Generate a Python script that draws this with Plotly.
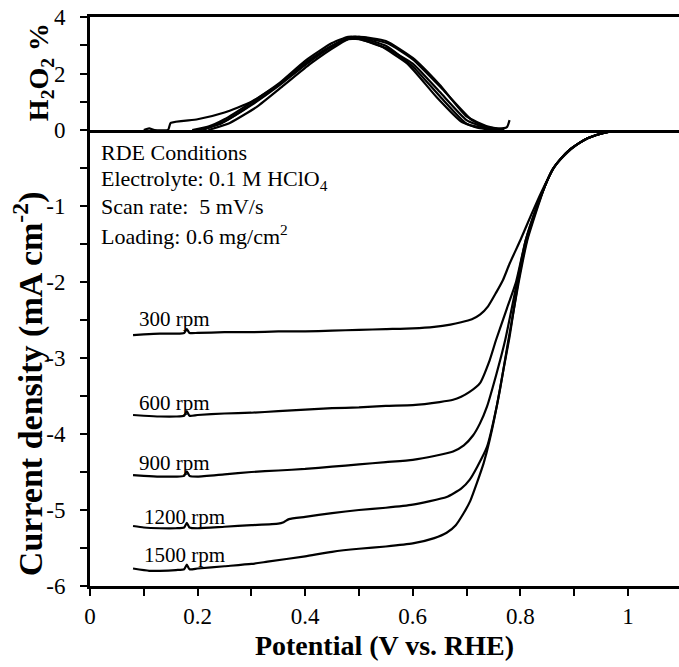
import plotly.graph_objects as go

# ---------------- LSV data (Potential V vs RHE, current density mA cm-2) -----------
x_300 = [0.08, 0.10, 0.13, 0.16, 0.175, 0.18, 0.185, 0.20, 0.25, 0.30, 0.35, 0.40, 0.45,
         0.50, 0.55, 0.60, 0.64, 0.67, 0.69, 0.71, 0.725, 0.74, 0.755, 0.768, 0.78, 0.80,
         0.82, 0.835, 0.85, 0.865, 0.88, 0.895, 0.91, 0.925, 0.94, 0.955, 0.97, 0.985, 1.00]
j_300 = [-2.70, -2.69, -2.68, -2.68, -2.67, -2.62, -2.67, -2.67, -2.66, -2.66, -2.65, -2.65, -2.64,
         -2.63, -2.62, -2.61, -2.59, -2.56, -2.53, -2.49, -2.43, -2.32, -2.14, -1.97, -1.76, -1.45,
         -1.12, -0.88, -0.66, -0.47, -0.35, -0.25, -0.17, -0.11, -0.07, -0.04, -0.015, 0.0, 0.0]

x_600 = [0.08, 0.10, 0.13, 0.16, 0.175, 0.18, 0.185, 0.20, 0.25, 0.30, 0.35, 0.40, 0.45,
         0.50, 0.55, 0.60, 0.65, 0.675, 0.69, 0.705, 0.725, 0.743, 0.755, 0.775, 0.792, 0.81,
         0.831, 0.845, 0.86, 0.875, 0.89, 0.91, 0.925, 0.94, 0.955, 0.97, 0.985, 1.00]
j_600 = [-3.75, -3.76, -3.77, -3.77, -3.76, -3.70, -3.76, -3.75, -3.73, -3.72, -3.70, -3.68, -3.66,
         -3.65, -3.63, -3.62, -3.58, -3.55, -3.51, -3.45, -3.33, -3.03, -2.76, -2.35, -2.00, -1.45,
         -1.00, -0.75, -0.52, -0.38, -0.27, -0.17, -0.11, -0.07, -0.04, -0.015, 0.0, 0.0]

x_900 = [0.08, 0.10, 0.13, 0.16, 0.175, 0.18, 0.185, 0.20, 0.25, 0.30, 0.35, 0.40, 0.45,
         0.50, 0.55, 0.60, 0.64, 0.675, 0.695, 0.712, 0.725, 0.738, 0.756, 0.772, 0.794, 0.81,
         0.831, 0.845, 0.86, 0.875, 0.89, 0.91, 0.925, 0.94, 0.955, 0.97, 0.985, 1.00]
j_900 = [-4.54, -4.55, -4.56, -4.56, -4.55, -4.49, -4.55, -4.56, -4.53, -4.50, -4.48, -4.46, -4.43,
         -4.40, -4.37, -4.34, -4.29, -4.23, -4.15, -4.02, -3.86, -3.64, -3.20, -2.76, -2.00, -1.45,
         -1.00, -0.75, -0.52, -0.38, -0.27, -0.17, -0.11, -0.07, -0.04, -0.015, 0.0, 0.0]

x_1200 = [0.08, 0.10, 0.13, 0.16, 0.175, 0.18, 0.185, 0.20, 0.25, 0.30, 0.35, 0.36, 0.37, 0.40,
          0.45, 0.50, 0.55, 0.60, 0.663, 0.69, 0.706, 0.72, 0.738, 0.756, 0.77, 0.78, 0.796, 0.812,
          0.832, 0.845, 0.86, 0.875, 0.89, 0.91, 0.925, 0.94, 0.955, 0.97, 0.985, 1.00]
j_1200 = [-5.21, -5.23, -5.24, -5.24, -5.23, -5.17, -5.23, -5.24, -5.22, -5.20, -5.18, -5.16, -5.12, -5.09,
          -5.04, -5.00, -4.97, -4.93, -4.83, -4.72, -4.60, -4.43, -4.17, -3.64, -3.10, -2.72, -2.00, -1.45,
          -1.00, -0.75, -0.52, -0.38, -0.27, -0.17, -0.11, -0.07, -0.04, -0.015, 0.0, 0.0]

x_1500 = [0.08, 0.11, 0.13, 0.16, 0.175, 0.18, 0.185, 0.20, 0.25, 0.30, 0.33, 0.40, 0.45,
          0.50, 0.55, 0.60, 0.64, 0.663, 0.68, 0.694, 0.707, 0.719, 0.732, 0.743, 0.762, 0.777,
          0.797, 0.813, 0.833, 0.845, 0.86, 0.875, 0.89, 0.91, 0.925, 0.94, 0.955, 0.97, 0.985, 1.00]
j_1500 = [-5.77, -5.80, -5.80, -5.79, -5.78, -5.72, -5.78, -5.77, -5.74, -5.71, -5.68, -5.61, -5.55,
          -5.51, -5.48, -5.44, -5.37, -5.30, -5.20, -5.05, -4.88, -4.65, -4.38, -4.08, -3.42, -2.80,
          -2.00, -1.45, -1.00, -0.75, -0.52, -0.38, -0.27, -0.17, -0.11, -0.07, -0.04, -0.015, 0.0, 0.0]

lsv_labels = ["300 rpm", "600 rpm", "900 rpm", "1200 rpm", "1500 rpm"]

# ---------------- H2O2 yield data (%) ----------------
hx_a = [0.10, 0.11, 0.12, 0.145, 0.15, 0.20, 0.25, 0.30, 0.35, 0.40, 0.45, 0.48, 0.50, 0.55,
        0.60, 0.65, 0.70, 0.73, 0.76, 0.775, 0.78]
hy_a = [0.0, 0.06, 0.0, 0.0, 0.25, 0.38, 0.62, 1.00, 1.60, 2.38, 2.98, 3.25, 3.22, 2.90,
        2.35, 1.35, 0.35, 0.12, 0.05, 0.10, 0.35]
hx_b = [0.19, 0.22, 0.25, 0.30, 0.35, 0.40, 0.45, 0.48, 0.50, 0.55, 0.60, 0.65, 0.70, 0.74, 0.77]
hy_b = [0.0, 0.12, 0.38, 0.98, 1.63, 2.45, 3.08, 3.30, 3.28, 2.98, 2.25, 1.20, 0.22, 0.05, 0.02]
hx_c = [0.21, 0.25, 0.30, 0.35, 0.40, 0.45, 0.48, 0.50, 0.55, 0.60, 0.65, 0.70, 0.74, 0.77]
hy_c = [0.0, 0.30, 0.88, 1.55, 2.30, 2.95, 3.22, 3.30, 3.15, 2.55, 1.60, 0.48, 0.12, 0.02]
hx_d = [0.22, 0.26, 0.31, 0.36, 0.41, 0.46, 0.49, 0.51, 0.555, 0.60, 0.655, 0.71, 0.74, 0.76]
hy_d = [0.0, 0.25, 0.82, 1.58, 2.35, 3.00, 3.30, 3.27, 3.05, 2.50, 1.45, 0.35, 0.08, 0.0]
hx_e = [0.20, 0.24, 0.29, 0.345, 0.39, 0.44, 0.475, 0.50, 0.54, 0.59, 0.645, 0.69, 0.72, 0.75]
hy_e = [0.0, 0.20, 0.78, 1.52, 2.22, 2.88, 3.20, 3.22, 2.97, 2.35, 1.15, 0.30, 0.08, 0.0]

# ---------------- figure ----------------
FONT = "Liberation Serif, Times New Roman, serif"
fig = go.Figure()

for xs, js in [(x_300, j_300), (x_600, j_600), (x_900, j_900), (x_1200, j_1200), (x_1500, j_1500)]:
    fig.add_trace(go.Scatter(x=xs, y=js, mode="lines", xaxis="x", yaxis="y",
                             line=dict(color="black", width=2.2, shape="spline", smoothing=0.5),
                             showlegend=False, hoverinfo="skip"))

for xs, ys in [(hx_a, hy_a), (hx_b, hy_b), (hx_c, hy_c), (hx_d, hy_d), (hx_e, hy_e)]:
    fig.add_trace(go.Scatter(x=xs, y=ys, mode="lines", xaxis="x2", yaxis="y2",
                             line=dict(color="black", width=2.2, shape="spline", smoothing=0.5),
                             showlegend=False, hoverinfo="skip"))

y_major = [-6, -5, -4, -3, -2, -1]
y_major_text = ["-6", "-5", "-4", "-3", "-2", "-1"]
h_major = [0, 2, 4]
h_major_text = ["0", "2", "4"]

split = 0.8014

fig.update_layout(
    width=679, height=667,
    margin=dict(l=90, r=0, t=17, b=81),
    paper_bgcolor="white", plot_bgcolor="white",
    font=dict(family=FONT, color="black", size=22),
    xaxis=dict(domain=[0, 1], range=[0, 1.095], anchor="y",
               showline=True, linewidth=3, linecolor="black",
               ticks="outside", ticklen=7, tickwidth=1.5, tickcolor="black",
               tick0=0, dtick=0.2,
               minor=dict(dtick=0.1, tick0=0, ticks="outside", ticklen=7, tickwidth=1.5, tickcolor="black"),
               showgrid=False, zeroline=False,
               tickfont=dict(family=FONT, size=23),
               title=dict(text="<b>Potential (V vs. RHE)</b>", font=dict(family=FONT, size=28), standoff=8)),
    xaxis2=dict(domain=[0, 1], matches="x", anchor="y2",
                showline=True, mirror=True, linewidth=3, linecolor="black",
                ticks="", showticklabels=False, showgrid=False, zeroline=False),
    yaxis=dict(domain=[0, split], range=[-6, 0], anchor="x",
               showline=True, linewidth=3, linecolor="black",
               tickmode="array", tickvals=y_major, ticktext=y_major_text,
               ticks="outside", ticklen=7, tickwidth=1.5, tickcolor="black",
               minor=dict(tickmode="array", tickvals=[-5.5, -4.5, -3.5, -2.5, -1.5, -0.5],
                          ticks="outside", ticklen=7, tickwidth=1.5, tickcolor="black"),
               ticklabelstandoff=10,
               showgrid=False, zeroline=False,
               tickfont=dict(family=FONT, size=23)),
    yaxis2=dict(domain=[split, 1], range=[0, 4], anchor="x2",
                showline=True, linewidth=3, linecolor="black",
                tickmode="array", tickvals=h_major, ticktext=h_major_text,
                ticks="outside", ticklen=7, tickwidth=1.5, tickcolor="black",
                minor=dict(tickmode="array", tickvals=[1, 3],
                           ticks="outside", ticklen=7, tickwidth=1.5, tickcolor="black"),
                ticklabelstandoff=10,
                showgrid=False, zeroline=False,
                tickfont=dict(family=FONT, size=23)),
)

annotations = [
    dict(text="<b>Current density (mA cm<sup>-2</sup>)</b>", textangle=-90,
         xref="paper", yref="paper", x=-0.105, y=0.355, xanchor="center", yanchor="middle",
         showarrow=False, font=dict(family=FONT, size=34)),
    dict(text="<b>H<sub>2</sub>O<sub>2</sub> %</b>", textangle=-90,
         xref="paper", yref="paper", x=-0.085, y=0.903, xanchor="center", yanchor="middle",
         showarrow=False, font=dict(family=FONT, size=28)),
]

cond_lines = ["RDE Conditions", "Electrolyte: 0.1 M HClO<sub>4</sub>",
              "Scan rate:  5 mV/s", "Loading: 0.6 mg/cm<sup>2</sup>"]
cond_y = [-0.29, -0.66, -1.01, -1.38]
for t, yy in zip(cond_lines, cond_y):
    annotations.append(dict(text=t, xref="x", yref="y", x=0.017, y=yy, xanchor="left",
                            yanchor="middle", showarrow=False, font=dict(family=FONT, size=22)))

label_pos = [(0.087, -2.49), (0.088, -3.59), (0.088, -4.38), (0.096, -5.09), (0.097, -5.59)]
for t, (xx, yy) in zip(lsv_labels, label_pos):
    annotations.append(dict(text=t, xref="x", yref="y", x=xx, y=yy, xanchor="left",
                            yanchor="middle", showarrow=False, font=dict(family=FONT, size=21)))

fig.update_layout(annotations=annotations)

fig.write_html("out.html")
